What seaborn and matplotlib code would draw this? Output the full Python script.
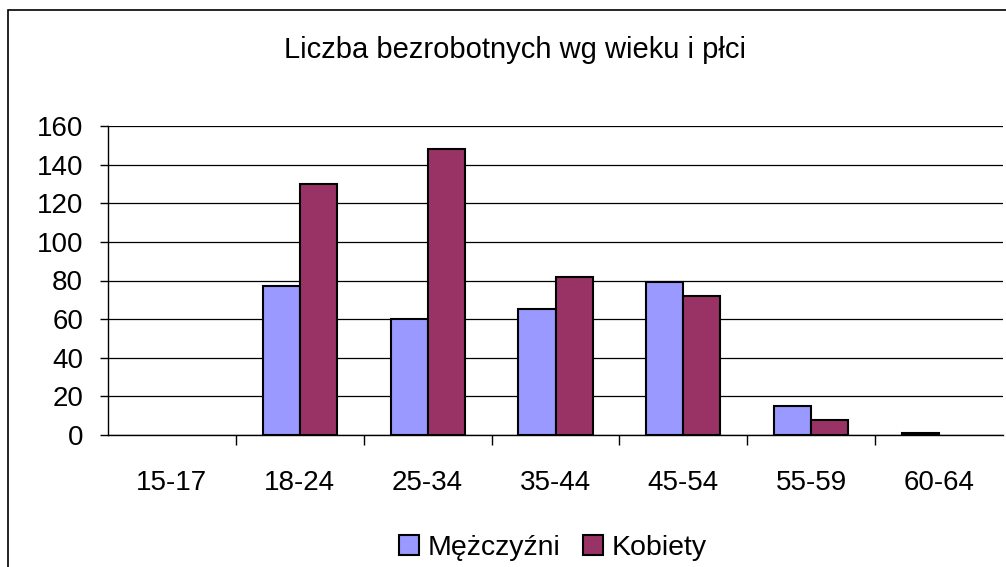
import numpy as np
import pandas as pd
import matplotlib
matplotlib.use('Agg')
import matplotlib.pyplot as plt
from matplotlib.patches import Rectangle
import seaborn as sns

# dane
grupy_wieku = ['15-17', '18-24', '25-34', '35-44', '45-54', '55-59', '60-64']
mezczyzni = [0, 77, 60, 65, 79, 15, 1]
kobiety = [0, 130, 148, 82, 72, 8, 0]
serie = ['Mężczyźni', 'Kobiety']
kolory = ['#9999FF', '#993366']

df = pd.DataFrame({
    'wiek': grupy_wieku * 2,
    'liczba': mezczyzni + kobiety,
    'plec': [serie[0]] * len(grupy_wieku) + [serie[1]] * len(grupy_wieku),
})

sns.set_theme(style='white')
plt.rcParams['font.family'] = ['Liberation Sans', 'DejaVu Sans']
plt.rcParams['text.color'] = 'black'
plt.rcParams['xtick.color'] = 'black'
plt.rcParams['ytick.color'] = 'black'

fig = plt.figure(figsize=(10.06, 5.67), dpi=100)
ax = fig.add_axes([108/1006, 1 - 435/567, (1003 - 108)/1006, (435 - 126)/567])

sns.barplot(data=df, x='wiek', y='liczba', hue='plec', hue_order=serie,
            palette=kolory, order=grupy_wieku, width=0.58, gap=0,
            edgecolor='black', linewidth=1.5, saturation=1, ax=ax)

ax.set_ylim(0, 160)
ax.set_yticks(range(0, 161, 20))
ax.set_xlim(-0.5, len(grupy_wieku) - 0.5)
ax.set_xlabel('')
ax.set_ylabel('')
ax.yaxis.grid(True, color='black', linewidth=0.9)
ax.set_axisbelow(True)
for s in ['top', 'right']:
    ax.spines[s].set_visible(False)
for s in ['left', 'bottom']:
    ax.spines[s].set_color('black')
    ax.spines[s].set_linewidth(1)

ax.tick_params(axis='y', which='major', left=True, length=6, width=1,
               labelsize=20, pad=12)
ax.tick_params(axis='x', which='major', bottom=False, labelsize=20, pad=19)
ax.set_xticks(np.arange(0.5, len(grupy_wieku) - 0.5), minor=True)
ax.tick_params(axis='x', which='minor', bottom=True, length=7, width=1)

fig.suptitle('Liczba bezrobotnych wg wieku i płci', x=515/1006, y=1 - 50/567,
             va='center', fontsize=21)

leg = ax.legend(loc='center', bbox_to_anchor=(553/1006, 1 - 548/567),
                bbox_transform=fig.transFigure, ncol=2, frameon=False,
                fontsize=20.5, handlelength=0.7, handleheight=0.7,
                handletextpad=0.3, columnspacing=0.8)

# słupki zerowe nie są rysowane w oryginale (po utworzeniu legendy)
for p in ax.patches:
    if p.get_height() == 0:
        p.set_visible(False)

# ramka wykresu
fig.patches.append(Rectangle((8/1006, -0.1), 1.1, 1 - 10/567 + 0.1,
                             transform=fig.transFigure, fill=False,
                             edgecolor='black', linewidth=1.2))

fig.savefig('out.png', dpi=100)
